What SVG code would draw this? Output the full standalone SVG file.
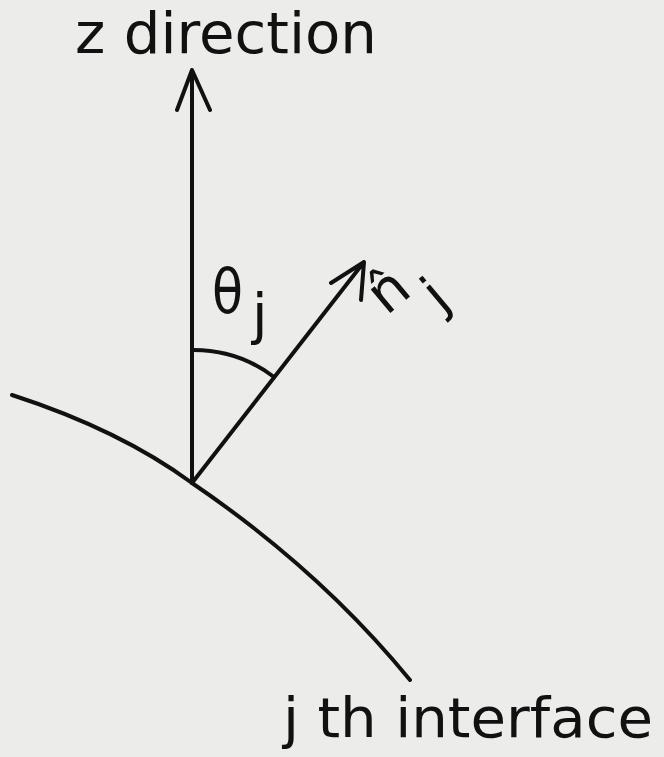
<svg xmlns="http://www.w3.org/2000/svg" width="664" height="757" viewBox="0 0 664 757">
<style>
.ln{fill:none;stroke:#111;stroke-width:4;stroke-linecap:round;stroke-linejoin:round}
.t{font-family:"DejaVu Sans","Liberation Sans",sans-serif;fill:#111}
</style>
<rect width="664" height="757" fill="#ececea"/>
<g id="labels">
<text class="t" x="75" y="53" font-size="57" textLength="302" lengthAdjust="spacingAndGlyphs">z direction</text>
<text class="t" x="283" y="737" font-size="55" textLength="370" lengthAdjust="spacingAndGlyphs">j th  interface</text>
<text class="t" x="212" y="313" font-size="62" textLength="31" lengthAdjust="spacingAndGlyphs">θ</text>
<text class="t" x="252" y="333" font-size="56">j</text>
<text class="t" transform="translate(391,294) rotate(-40)" font-size="56" text-anchor="middle" y="14">n̂</text>
<text class="t" transform="translate(438,298) rotate(-40)" font-size="54" text-anchor="middle" y="14">j</text>
</g>
<g id="interface"><path class="ln" d="M12,395 Q120,430 192,483 Q320,570 410,680"/></g>
<g id="connectors">
<path class="ln" d="M192,483 V70 M177,110 L192,70 L210,110"/>
<path class="ln" d="M192,483 L364,262 M331,283 L364,262 L361,300"/>
<path class="ln" d="M192,350 A133,133 0 0 1 274,377" stroke-width="3"/>
</g>
</svg>
